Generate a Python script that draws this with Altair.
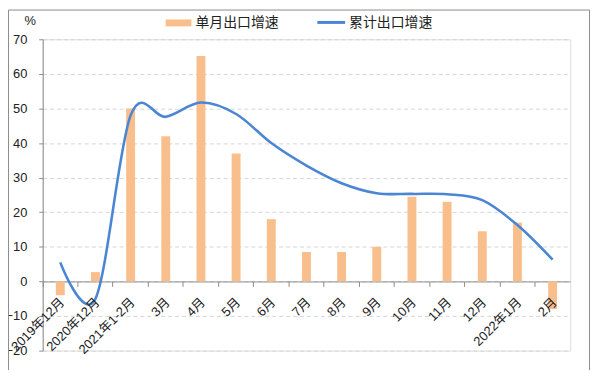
import altair as alt
import pandas as pd

cats = ["2019年12月", "2020年12月", "2021年1-2月", "3月", "4月", "5月", "6月", "7月",
        "8月", "9月", "10月", "11月", "12月", "2022年1月", "2月"]
monthly = [-4.0, 2.7, 50.0, 42.0, 65.2, 37.0, 18.0, 8.5, 8.5, 10.0, 24.5, 23.0, 14.5, 17.0, -8.0]
cumulative = [5.5, -5.0, 48.0, 47.6, 51.7, 48.4, 40.0, 33.5, 28.4, 25.5, 25.3, 25.2, 23.5, 16.3, 6.3]
y_ticks = [-20, -10, 0, 10, 20, 30, 40, 50, 60, 70]
series_names = ["单月出口增速", "累计出口增速"]

ORANGE = "#F8BF8D"
BLUE = "#4A86D4"
GREY = "#8C8C8C"
FONT = "Liberation Sans, Noto Sans CJK SC"

W, H = 532, 314
df = pd.DataFrame({"cat": cats, "monthly": monthly, "cumulative": cumulative})

xs = alt.Scale(domain=cats, paddingInner=0, paddingOuter=0)
ys = alt.Scale(domain=[-20, 70], nice=False)
zero_offset = -(0 - (-20)) / 90 * H

y_axis = alt.Axis(values=y_ticks, tickCount=10, labelOverlap=False, title="%", titleAngle=0,
                  titleX=-13, titleY=-12, titleFont=FONT, titleFontSize=13,
                  titleFontWeight="normal", titleColor="#222222", labelFont=FONT,
                  labelFontSize=13, labelColor="#222222", labelPadding=12, tickSize=4,
                  tickColor=GREY, domainColor=GREY, gridColor="#D4D4D4", gridDash=[4, 3])

bars = alt.Chart(df).mark_bar(size=9, color=ORANGE).encode(
    x=alt.X("cat:N", sort=cats, scale=xs,
            axis=alt.Axis(title=None, labels=False, ticks=True, tickSize=5, bandPosition=0,
                          offset=zero_offset, domainColor=GREY, tickColor=GREY, grid=False)),
    y=alt.Y("monthly:Q", scale=ys, axis=y_axis),
)

line = alt.Chart(df).mark_line(color=BLUE, strokeWidth=2.6, interpolate="cardinal",
                               tension=0).encode(
    x=alt.X("cat:N", sort=cats, scale=xs),
    y=alt.Y("cumulative:Q", scale=ys, axis=y_axis),
)

labels = alt.Chart(df).mark_text(angle=315, align="right", baseline="middle", dx=-12, dy=15,
                                 font=FONT, fontSize=13, color="#222222").encode(
    x=alt.X("cat:N", sort=cats, scale=xs),
    y=alt.Y(datum=0, scale=ys, axis=y_axis),
    text="cat:N",
)

leg1_df = pd.DataFrame({"name": [series_names[0]]})
leg2_df = pd.DataFrame({"name": [series_names[1]]})
leg_sw1 = alt.Chart(leg1_df).mark_rect(color=ORANGE).encode(
    x=alt.value(124), x2=alt.value(150), y=alt.value(-20), y2=alt.value(-13))
leg_tx1 = alt.Chart(leg1_df).mark_text(align="left", baseline="middle", font=FONT,
                                        fontSize=14, color="#222222").encode(
    x=alt.value(154), y=alt.value(-16), text="name:N")
leg_sw2 = alt.Chart(leg2_df).mark_rule(color=BLUE, strokeWidth=3).encode(
    x=alt.value(277), x2=alt.value(305), y=alt.value(-17))
leg_tx2 = alt.Chart(leg2_df).mark_text(align="left", baseline="middle", font=FONT,
                                        fontSize=14, color="#222222").encode(
    x=alt.value(309), y=alt.value(-16), text="name:N")

frame_top = alt.Chart(leg1_df).mark_rule(color=GREY, strokeWidth=1).encode(
    x=alt.value(-34.5), x2=alt.value(551.5), y=alt.value(-29.5))
frame_left = alt.Chart(leg1_df).mark_rule(color=GREY, strokeWidth=1).encode(
    x=alt.value(-34.5), y=alt.value(-29.5), y2=alt.value(340))
frame_right = alt.Chart(leg1_df).mark_rule(color=GREY, strokeWidth=1).encode(
    x=alt.value(551.5), y=alt.value(-29.5), y2=alt.value(340))

chart = alt.layer(bars, line, labels, leg_sw1, leg_tx1, leg_sw2, leg_tx2,
                  frame_top, frame_left, frame_right).properties(
    width=W, height=H,
    autosize=alt.AutoSizeParams(type="none"),
    padding={"left": 35, "top": 30, "right": 22, "bottom": 18},
).configure_view(stroke=None).configure(background="white")

chart.save("out.html", embed_options={"renderer": "svg", "actions": False})
